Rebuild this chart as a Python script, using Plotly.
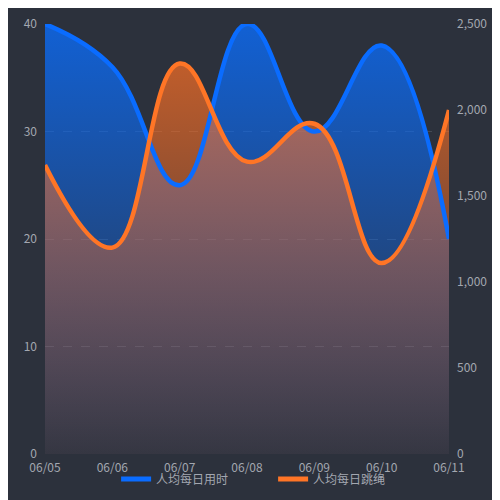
import plotly.graph_objects as go

# Data
dates = ["06/05", "06/06", "06/07", "06/08", "06/09", "06/10", "06/11"]
avg_minutes = [40, 36, 25, 40, 30, 38, 20]
avg_jumps = [1680, 1200, 2270, 1700, 1920, 1110, 2000]

BLUE = "#0a6cff"
ORANGE = "#ff7526"
BG = "#2c313c"
TICK_COLOR = "#a3a7b0"
FONT = "Noto Sans CJK SC"
SMOOTH = 1.2

fig = go.Figure()

# fills first, lines on top (separate overlaid axes keep the draw order)
fig.add_trace(go.Scatter(
    x=dates, y=avg_minutes, yaxis="y", mode="lines",
    line=dict(width=0, shape="spline", smoothing=SMOOTH),
    fill="tozeroy",
    fillgradient=dict(type="vertical", colorscale=[
        [0, "rgba(10,110,255,0.04)"], [1, "rgba(10,110,255,0.78)"]]),
    showlegend=False, hoverinfo="skip",
))
fig.add_trace(go.Scatter(
    x=dates, y=avg_jumps, yaxis="y2", mode="lines",
    line=dict(width=0, shape="spline", smoothing=SMOOTH),
    fill="tozeroy",
    fillgradient=dict(type="vertical", colorscale=[
        [0, "rgba(255,112,36,0.05)"], [1, "rgba(255,112,36,0.7)"]]),
    showlegend=False, hoverinfo="skip",
))
fig.add_trace(go.Scatter(
    x=dates, y=avg_minutes, name="人均每日用时", yaxis="y3", mode="lines",
    line=dict(color=BLUE, width=4.5, shape="spline", smoothing=SMOOTH),
    showlegend=False, hoverinfo="skip",
))
fig.add_trace(go.Scatter(
    x=dates, y=avg_jumps, name="人均每日跳绳", yaxis="y4", mode="lines",
    line=dict(color=ORANGE, width=4.5, shape="spline", smoothing=SMOOTH),
    showlegend=False, hoverinfo="skip",
))

# legend-only entries (plain thick bars like the reference)
for name, color in [("人均每日用时", BLUE), ("人均每日跳绳", ORANGE)]:
    fig.add_trace(go.Scatter(
        x=[None], y=[None], name=name, mode="lines",
        line=dict(color=color, width=5), showlegend=True,
    ))

hidden = dict(overlaying="y", visible=False, showgrid=False, zeroline=False,
              automargin=False)

fig.update_layout(
    width=500, height=500,
    margin=dict(l=37, r=59, t=16, b=54, autoexpand=False),
    paper_bgcolor=BG, plot_bgcolor=BG,
    font=dict(family=FONT, size=12, color=TICK_COLOR),
    xaxis=dict(
        type="category", range=[0, 6], showgrid=False, zeroline=False,
        showline=False, ticks="", ticklabelstandoff=5, automargin=False,
    ),
    yaxis=dict(
        range=[0, 40], dtick=10, showgrid=True, gridcolor="#444a55",
        griddash="dash", gridwidth=1, zeroline=False, showline=False,
        ticklabelstandoff=7, automargin=False,
    ),
    yaxis2=dict(
        range=[0, 2500], dtick=500, overlaying="y", side="right",
        showgrid=False, zeroline=False, showline=False, tickformat=",d",
        ticklabelstandoff=7, automargin=False,
    ),
    yaxis3=dict(range=[0, 40], **hidden),
    yaxis4=dict(range=[0, 2500], **hidden),
    legend=dict(
        orientation="h", x=0.176, xanchor="left", y=-0.058, yanchor="middle",
        font=dict(family=FONT, size=12, color=TICK_COLOR),
        bgcolor="rgba(0,0,0,0)", entrywidth=112, itemwidth=30,
    ),
    showlegend=True,
)

fig.write_html("out.html")
